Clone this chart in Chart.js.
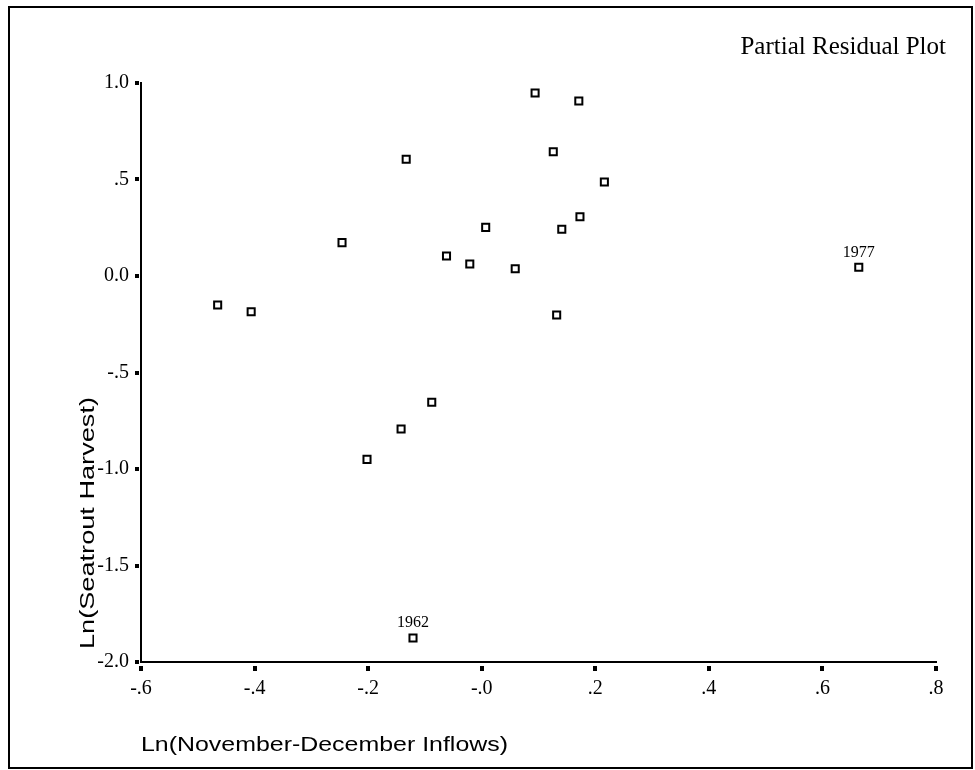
<!DOCTYPE html>
<html>
<head>
<meta charset="utf-8">
<script src="https://cdn.jsdelivr.net/npm/chart.js@4.4.1/dist/chart.umd.min.js"></script>
<style>
  html, body { margin: 0; padding: 0; background: #fff; }
  canvas { display: block; }
</style>
</head>
<body>
<canvas id="residuals" width="975" height="770"></canvas>
<script>
// values
const inflows = [0.094, 0.171, -0.133, 0.126, 0.216, 0.173, 0.141, 0.007, -0.246, -0.062,
                 -0.021, 0.059, 0.664, -0.465, -0.406, 0.132, -0.088, -0.142, -0.202, -0.121];
const harvest = [0.948, 0.907, 0.605, 0.644, 0.487, 0.307, 0.242, 0.252, 0.173, 0.104,
                 0.062, 0.038, 0.045, -0.150, -0.185, -0.202, -0.654, -0.793, -0.950, -1.876];
const yearLabels = ["", "", "", "", "", "", "", "", "", "",
                    "", "", "1977", "", "", "", "", "", "", "1962"];

const xTicks = [-0.6, -0.4, -0.2, 0, 0.2, 0.4, 0.6, 0.8];
const xTickLabels = ["-.6", "-.4", "-.2", "-.0", ".2", ".4", ".6", ".8"];
const yTicks = [-2, -1.5, -1, -0.5, 0, 0.5, 1];
const yTickLabels = ["-2.0", "-1.5", "-1.0", "-.5", "0.0", ".5", "1.0"];

const serif = '"Liberation Serif", "Times New Roman", serif';
const sans = '"Liberation Sans", Arial, sans-serif';

// draws text squeezed/stretched to a given length (the scan is a bit wide)
function fitText(ctx, text, x, y, len, rotate) {
  ctx.save();
  ctx.translate(x, y);
  if (rotate) ctx.rotate(-Math.PI / 2);
  const w = ctx.measureText(text).width;
  ctx.scale(len / w, 1);
  ctx.fillText(text, 0, 0);
  ctx.restore();
}

const decor = {
  id: "decor",
  afterDraw(chart) {
    const ctx = chart.ctx;
    const area = chart.chartArea;
    const xs = chart.scales.x;
    const ys = chart.scales.y;
    ctx.save();
    ctx.fillStyle = "#000";
    ctx.strokeStyle = "#000";

    // outer frame
    ctx.lineWidth = 2;
    ctx.strokeRect(9, 7, 963, 761);

    // square tick marks
    xs.ticks.forEach(t => {
      const px = Math.round(xs.getPixelForValue(t.value));
      ctx.fillRect(px - 2, area.bottom + 4, 4, 5);
    });
    ys.ticks.forEach(t => {
      const py = Math.round(ys.getPixelForValue(t.value));
      ctx.fillRect(area.left - 6, py - 2, 4, 4);
    });

    // year labels above the flagged points
    ctx.font = "16px " + serif;
    ctx.textAlign = "center";
    ctx.textBaseline = "middle";
    chart.getDatasetMeta(0).data.forEach((pt, i) => {
      if (yearLabels[i]) ctx.fillText(yearLabels[i], pt.x, pt.y - 15);
    });

    // title
    ctx.font = "25px " + serif;
    ctx.textAlign = "right";
    ctx.fillText("Partial Residual Plot", 946, 47);

    // axis titles
    ctx.font = "21px " + sans;
    ctx.textAlign = "left";
    fitText(ctx, "Ln(November-December Inflows)", area.left, 745, 367, false);
    fitText(ctx, "Ln(Seatrout Harvest)", 88, 649, 252, true);

    ctx.restore();
  }
};

new Chart(document.getElementById("residuals"), {
  type: "scatter",
  data: {
    datasets: [{
      data: inflows.map((x, i) => ({ x: x, y: harvest[i] })),
      pointStyle: "rect",
      pointRadius: 5,
      pointBorderWidth: 2,
      borderColor: "#000",
      backgroundColor: "#fff"
    }]
  },
  options: {
    responsive: false,
    animation: false,
    layout: { padding: { top: 83, right: 39, left: 0, bottom: 0 } },
    plugins: {
      legend: { display: false },
      tooltip: { enabled: false }
    },
    scales: {
      x: {
        type: "linear",
        min: -0.6,
        max: 0.8,
        afterBuildTicks: s => { s.ticks = xTicks.map(v => ({ value: v })); },
        afterFit: s => { s.height = 108; },
        grid: { display: false, drawTicks: false },
        border: { display: true, color: "#000", width: 2 },
        ticks: {
          padding: 15,
          color: "#000",
          font: { family: serif, size: 20 },
          maxRotation: 0,
          callback: (v, i) => xTickLabels[i]
        }
      },
      y: {
        type: "linear",
        min: -2,
        max: 1,
        afterBuildTicks: s => { s.ticks = yTicks.map(v => ({ value: v })); },
        afterFit: s => { s.width = 141; },
        grid: { display: false, drawTicks: false },
        border: { display: true, color: "#000", width: 2 },
        ticks: {
          padding: 12,
          color: "#000",
          font: { family: serif, size: 20 },
          callback: (v, i) => yTickLabels[i]
        }
      }
    }
  },
  plugins: [decor]
});
</script>
</body>
</html>
